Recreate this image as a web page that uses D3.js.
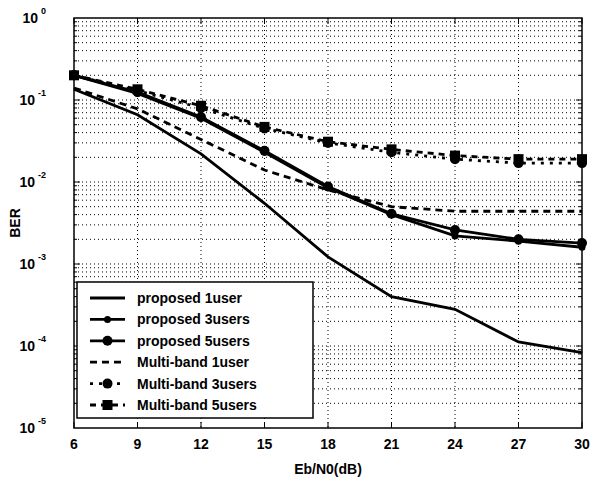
<!DOCTYPE html>
<html>
<head>
<meta charset="utf-8">
<script src="https://cdn.jsdelivr.net/npm/d3@7"></script>
<style>
  body { margin: 0; background: #fff; }
  text { font-family: "Liberation Sans", Arial, sans-serif; }
</style>
</head>
<body>
<div id="chart"></div>
<script>
// Eb/N0 values (dB)
const ebn0 = [6, 9, 12, 15, 18, 21, 24, 27, 30];

// BER series
const proposed1 = [0.135, 0.066, 0.022, 0.0055, 0.00122, 0.00040, 0.00028, 0.000112, 0.000083];
const proposed3 = [0.20, 0.12, 0.060, 0.023, 0.0085, 0.0040, 0.0022, 0.0019, 0.0016];
const proposed5 = [0.20, 0.125, 0.062, 0.024, 0.0088, 0.0041, 0.0026, 0.0020, 0.0018];
const multi1 = [0.14, 0.078, 0.033, 0.014, 0.0080, 0.0050, 0.0044, 0.0044, 0.0044];
const multi3 = [0.20, 0.13, 0.080, 0.045, 0.030, 0.023, 0.019, 0.017, 0.017];
const multi5 = [0.20, 0.135, 0.085, 0.047, 0.031, 0.025, 0.021, 0.019, 0.019];

const xTicks = [6, 9, 12, 15, 18, 21, 24, 27, 30];
const yExps = [0, -1, -2, -3, -4, -5];

const series = [
  {name: "proposed 1user", values: proposed1, dash: null, marker: null},
  {name: "proposed 3users", values: proposed3, dash: null, marker: "smalldot"},
  {name: "proposed 5users", values: proposed5, dash: null, marker: "circle"},
  {name: "Multi-band 1user", values: multi1, dash: "7,5", marker: null},
  {name: "Multi-band 3users", values: multi3, dash: "3,6", marker: "circle"},
  {name: "Multi-band 5users", values: multi5, dash: "6,5", marker: "square"}
];

const W = 595, H = 479;
const margin = {left: 74, right: 13, top: 18, bottom: 51};

const svg = d3.select("#chart").append("svg")
    .attr("width", W)
    .attr("height", H);

const x = d3.scaleLinear().domain([6, 30]).range([margin.left, W - margin.right]);
const y = d3.scaleLog().domain([1e-5, 1]).range([H - margin.bottom, margin.top]);

// grid lines (dotted)
const grid = svg.append("g").attr("stroke", "#000").attr("stroke-width", 1)
    .attr("stroke-dasharray", "1,3");

xTicks.slice(1, -1).forEach(t => {
  grid.append("line")
      .attr("x1", x(t)).attr("x2", x(t))
      .attr("y1", y(1)).attr("y2", y(1e-5));
});

const minor = [];
for (let e = -5; e < 0; e++) {
  for (let m = 1; m < 10; m++) minor.push(m * Math.pow(10, e));
}
minor.forEach(v => {
  if (v <= 1e-5) return;
  grid.append("line")
      .attr("x1", x(6)).attr("x2", x(30))
      .attr("y1", y(v)).attr("y2", y(v));
});

// ticks on the frame (both sides)
const ticks = svg.append("g").attr("stroke", "#000").attr("stroke-width", 1);
minor.forEach(v => {
  if (v <= 1e-5) return;
  const len = Math.abs(Math.log10(v) - Math.round(Math.log10(v))) < 1e-9 ? 6 : 3;
  ticks.append("line").attr("x1", x(6)).attr("x2", x(6) + len).attr("y1", y(v)).attr("y2", y(v));
  ticks.append("line").attr("x1", x(30)).attr("x2", x(30) - len).attr("y1", y(v)).attr("y2", y(v));
});
xTicks.forEach(t => {
  ticks.append("line").attr("x1", x(t)).attr("x2", x(t)).attr("y1", y(1e-5)).attr("y2", y(1e-5) - 6);
  ticks.append("line").attr("x1", x(t)).attr("x2", x(t)).attr("y1", y(1)).attr("y2", y(1) + 6);
});

// frame
svg.append("rect")
    .attr("x", x(6)).attr("y", y(1))
    .attr("width", x(30) - x(6)).attr("height", y(1e-5) - y(1))
    .attr("fill", "none").attr("stroke", "#000").attr("stroke-width", 1.5);

// x tick labels
svg.append("g").selectAll("text").data(xTicks).join("text")
    .attr("x", d => x(d)).attr("y", y(1e-5) + 21)
    .attr("text-anchor", "middle")
    .attr("font-size", 14).attr("font-weight", "bold")
    .text(d => d);

// y tick labels 10^n
const yl = svg.append("g").selectAll("text").data(yExps).join("text")
    .attr("x", x(6) - 28).attr("y", d => y(Math.pow(10, d)) + 5)
    .attr("text-anchor", "end")
    .attr("font-size", 14).attr("font-weight", "bold");
yl.append("tspan").text("10");
yl.append("tspan").attr("dx", 3).attr("dy", -9).attr("font-size", 9).text(d => d);

// axis titles
svg.append("text")
    .attr("x", x(18)).attr("y", H - 5)
    .attr("text-anchor", "middle")
    .attr("font-size", 14).attr("font-weight", "bold")
    .text("Eb/N0(dB)");

svg.append("text")
    .attr("transform", `translate(20,${(y(1) + y(1e-5)) / 2}) rotate(-90)`)
    .attr("text-anchor", "middle")
    .attr("font-size", 14).attr("font-weight", "bold")
    .text("BER");

// curves
const line = d3.line().x((d, i) => x(ebn0[i])).y(d => y(d));

function drawMarker(g, type, cx, cy) {
  if (type === "smalldot") {
    g.append("circle").attr("cx", cx).attr("cy", cy).attr("r", 3.5).attr("fill", "#000");
  } else if (type === "circle") {
    g.append("circle").attr("cx", cx).attr("cy", cy).attr("r", 5).attr("fill", "#000");
  } else if (type === "square") {
    g.append("rect").attr("x", cx - 5).attr("y", cy - 5)
        .attr("width", 10).attr("height", 10).attr("fill", "#000");
  }
}

const curves = svg.append("g");
series.forEach(s => {
  curves.append("path")
      .attr("d", line(s.values))
      .attr("fill", "none")
      .attr("stroke", "#000")
      .attr("stroke-width", 2.8)
      .attr("stroke-dasharray", s.dash);
  if (s.marker) {
    s.values.forEach((v, i) => drawMarker(curves, s.marker, x(ebn0[i]), y(v)));
  }
});

// legend
const lg = svg.append("g");
const lx = 77, ly = 282, lw = 236, lh = 136;
lg.append("rect")
    .attr("x", lx).attr("y", ly).attr("width", lw).attr("height", lh)
    .attr("fill", "#fff").attr("stroke", "#000").attr("stroke-width", 1.5);

series.forEach((s, i) => {
  const yy = ly + 16 + i * 21.4;
  lg.append("line")
      .attr("x1", lx + 13).attr("x2", lx + 48)
      .attr("y1", yy).attr("y2", yy)
      .attr("stroke", "#000").attr("stroke-width", 2.8)
      .attr("stroke-dasharray", s.dash);
  if (s.marker) drawMarker(lg, s.marker, lx + 30.5, yy);
  lg.append("text")
      .attr("x", lx + 60).attr("y", yy + 5)
      .attr("font-size", 14).attr("font-weight", "bold")
      .text(s.name);
});
</script>
</body>
</html>
